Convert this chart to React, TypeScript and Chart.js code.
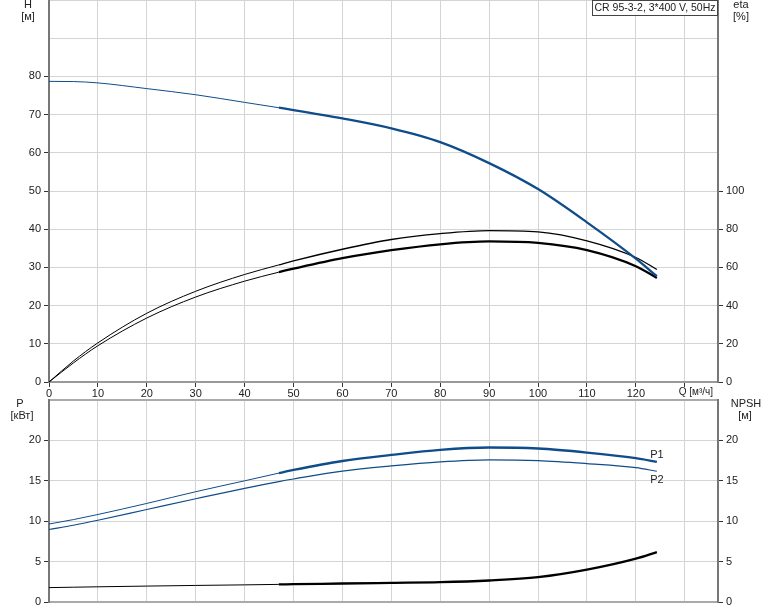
import React, { useEffect, useRef } from "react";
import { Chart, registerables } from "chart.js";

Chart.register(...registerables);

// ---- data ----
const Q = [0, 5, 10, 20, 30, 40, 47, 50, 60, 70, 80, 90, 100, 110, 120, 124.3];
const H = [78.7, 78.65, 78.3, 76.8, 75.2, 73.2, 71.8, 71.2, 69.0, 66.4, 62.8, 57.3, 50.5, 41.8, 32.3, 27.7];
const ETA_UPPER = [0, 11, 20.5, 36, 47.5, 56.3, 61.3, 63.4, 69.5, 74.6, 77.7, 79.3, 78.6, 73.9, 65.2, 58.9];
const ETA_LOWER = [0, 10, 19, 33.5, 44.5, 52.8, 57.5, 59.3, 64.8, 69.0, 72.1, 73.6, 72.8, 69.0, 60.6, 54.5];
const P1 = [9.65, 10.2, 10.83, 12.2, 13.65, 15.0, 15.95, 16.34, 17.45, 18.2, 18.83, 19.12, 19.0, 18.5, 17.8, 17.34];
const P2 = [8.97, 9.5, 10.12, 11.45, 12.78, 14.07, 14.9, 15.22, 16.2, 16.84, 17.34, 17.59, 17.5, 17.13, 16.63, 16.18];
const NPSH = [1.78, 1.83, 1.88, 1.97, 2.05, 2.12, 2.18, 2.2, 2.29, 2.37, 2.45, 2.66, 3.07, 4.0, 5.36, 6.18];

const X_MAX = 136.8;
const X_LABEL_MAX = 120;
const Q_LABEL_AT = 130;
const H_MAX = 100;
const H_LABEL_MAX = 80;
const ETA_MAX = 200;
const ETA_LABEL_MAX = 100;
const P_MAX = 25;
const P_LABEL_MAX = 20;
const THICK_FROM = 47;

const TITLE = "CR 95-3-2, 3*400 V, 50Hz";
const Q_LABEL = "Q [м³/ч]";

const FONT = '"Liberation Sans", Arial, sans-serif';
const BLUE = "#0f4c8a";
const GRID = "#d4d4d4";
const TXT = "#222";

const pts = (ys: number[]) => Q.map((x, i) => ({ x, y: ys[i] }));

const thickSeg = (thin: number, thick: number) => ({
  borderWidth: (ctx: any) => (ctx.p0.parsed.x >= THICK_FROM ? thick : thin),
});

function fixY(width: number) {
  return (s: any) => {
    s.width = width;
    s.paddingTop = 0;
    s.paddingBottom = 0;
  };
}
function fixX(height: number) {
  return (s: any) => {
    s.height = height;
    s.paddingLeft = 0;
    s.paddingRight = 0;
  };
}

function text(ctx: CanvasRenderingContext2D, s: string, x: number, y: number, align: CanvasTextAlign = "center", size = 11) {
  ctx.save();
  ctx.font = `${size}px ${FONT}`;
  ctx.fillStyle = TXT;
  ctx.textAlign = align;
  ctx.textBaseline = "middle";
  ctx.fillText(s, x, y);
  ctx.restore();
}

const topTexts = {
  id: "topTexts",
  afterDraw(chart: any) {
    const ctx = chart.ctx as CanvasRenderingContext2D;
    text(ctx, "H", 28, 5);
    text(ctx, "[м]", 28, 17);
    text(ctx, "eta", 741, 5);
    text(ctx, "[%]", 741, 17);
    const xs = chart.scales.x;
    text(ctx, Q_LABEL, xs.getPixelForValue(Q_LABEL_AT) - 6, 392, "left", 10);
    // title box
    ctx.save();
    ctx.fillStyle = "#fff";
    ctx.fillRect(592, 0, 126, 16);
    ctx.strokeStyle = "#444";
    ctx.lineWidth = 1;
    ctx.strokeRect(592.5, 0.5, 125, 15);
    ctx.restore();
    text(ctx, TITLE, 655, 8.5, "center", 10.5);
  },
};

const botTexts = {
  id: "botTexts",
  afterDraw(chart: any) {
    const ctx = chart.ctx as CanvasRenderingContext2D;
    text(ctx, "P", 20, 8);
    text(ctx, "[кВт]", 22, 20);
    text(ctx, "NPSH", 746, 8);
    text(ctx, "[м]", 745, 20);
    const xs = chart.scales.x;
    const ys = chart.scales.y;
    const last = Q.length - 1;
    const xe = xs.getPixelForValue(Q[last]);
    text(ctx, "P1", xe, ys.getPixelForValue(P1[last]) - 6.5);
    text(ctx, "P2", xe, ys.getPixelForValue(P2[last]) + 9);
  },
};

export default function App() {
  const topRef = useRef<HTMLCanvasElement>(null);
  const botRef = useRef<HTMLCanvasElement>(null);

  useEffect(() => {
    Chart.defaults.font.family = FONT;
    Chart.defaults.font.size = 11;
    Chart.defaults.color = TXT;

    const tickFont = { family: FONT, size: 11 };

    const top = new Chart(topRef.current!, {
      type: "line",
      data: {
        datasets: [
          {
            data: pts(H),
            yAxisID: "y",
            borderColor: BLUE,
            borderWidth: 1,
            segment: thickSeg(1, 2.3),
            pointRadius: 0,
            cubicInterpolationMode: "monotone",
          },
          {
            data: pts(ETA_UPPER),
            yAxisID: "eta",
            borderColor: "#000",
            borderWidth: 1,
            segment: thickSeg(1, 1.3),
            pointRadius: 0,
            cubicInterpolationMode: "monotone",
          },
          {
            data: pts(ETA_LOWER),
            yAxisID: "eta",
            borderColor: "#000",
            borderWidth: 1,
            segment: thickSeg(1, 2.3),
            pointRadius: 0,
            cubicInterpolationMode: "monotone",
          },
        ],
      },
      options: {
        animation: false,
        responsive: true,
        maintainAspectRatio: false,
        layout: { padding: 0 },
        plugins: { legend: { display: false }, tooltip: { enabled: false }, title: { display: false } },
        scales: {
          x: {
            type: "linear",
            min: 0,
            max: X_MAX,
            afterFit: fixX(18),
            ticks: {
              stepSize: 10,
              includeBounds: false,
              autoSkip: false,
              maxRotation: 0,
              padding: 0,
              font: tickFont,
              color: TXT,
              callback: (v: any) => (v <= X_LABEL_MAX ? String(v) : ""),
            },
            grid: { color: GRID, lineWidth: 1, tickLength: 5, tickColor: "#333" },
            border: { color: "#999", width: 2 },
          },
          y: {
            position: "left",
            min: 0,
            max: H_MAX,
            afterFit: fixY(49),
            ticks: {
              stepSize: 10,
              padding: 3,
              font: tickFont,
              color: TXT,
              callback: (v: any) => (v <= H_LABEL_MAX ? String(v) : ""),
            },
            grid: {
              color: GRID,
              lineWidth: 1,
              tickLength: 5,
              tickColor: (c: any) => (c.tick && c.tick.value <= H_LABEL_MAX ? "#333" : "rgba(0,0,0,0)"),
            },
            border: { color: "#777", width: 2 },
          },
          eta: {
            position: "right",
            min: 0,
            max: ETA_MAX,
            afterFit: fixY(56),
            ticks: {
              stepSize: 20,
              padding: 3,
              font: tickFont,
              color: TXT,
              callback: (v: any) => (v <= ETA_LABEL_MAX ? String(v) : ""),
            },
            grid: {
              drawOnChartArea: false,
              tickLength: 5,
              tickColor: (c: any) => (c.tick && c.tick.value <= ETA_LABEL_MAX ? "#333" : "rgba(0,0,0,0)"),
            },
            border: { color: "#777", width: 2 },
          },
        },
      } as any,
      plugins: [topTexts],
    });

    const bot = new Chart(botRef.current!, {
      type: "line",
      data: {
        datasets: [
          {
            data: pts(P1),
            yAxisID: "y",
            borderColor: BLUE,
            borderWidth: 1,
            segment: thickSeg(1, 2.3),
            pointRadius: 0,
            cubicInterpolationMode: "monotone",
          },
          {
            data: pts(P2),
            yAxisID: "y",
            borderColor: BLUE,
            borderWidth: 1.2,
            pointRadius: 0,
            cubicInterpolationMode: "monotone",
          },
          {
            data: pts(NPSH),
            yAxisID: "npsh",
            borderColor: "#000",
            borderWidth: 1,
            segment: thickSeg(1, 2.3),
            pointRadius: 0,
            cubicInterpolationMode: "monotone",
          },
        ],
      },
      options: {
        animation: false,
        responsive: true,
        maintainAspectRatio: false,
        layout: { padding: { top: 4, left: 0, right: 0, bottom: 0 } },
        plugins: { legend: { display: false }, tooltip: { enabled: false }, title: { display: false } },
        scales: {
          x: {
            type: "linear",
            min: 0,
            max: X_MAX,
            afterFit: fixX(9),
            ticks: { display: false, stepSize: 10, includeBounds: false },
            grid: { color: GRID, lineWidth: 1, drawTicks: false },
            border: { color: "#aaa", width: 2 },
          },
          y: {
            position: "left",
            min: 0,
            max: P_MAX,
            afterFit: fixY(49),
            ticks: {
              stepSize: 5,
              padding: 3,
              font: tickFont,
              color: TXT,
              callback: (v: any) => (v <= P_LABEL_MAX ? String(v) : ""),
            },
            grid: {
              color: (c: any) => (c.tick && c.tick.value >= P_MAX ? "#aaa" : GRID),
              lineWidth: (c: any) => (c.tick && c.tick.value >= P_MAX ? 2 : 1),
              tickLength: 5,
              tickColor: (c: any) => (c.tick && c.tick.value <= P_LABEL_MAX ? "#333" : "rgba(0,0,0,0)"),
            },
            border: { color: "#777", width: 2 },
          },
          npsh: {
            position: "right",
            min: 0,
            max: P_MAX,
            afterFit: fixY(56),
            ticks: {
              stepSize: 5,
              padding: 3,
              font: tickFont,
              color: TXT,
              callback: (v: any) => (v <= P_LABEL_MAX ? String(v) : ""),
            },
            grid: {
              drawOnChartArea: false,
              tickLength: 5,
              tickColor: (c: any) => (c.tick && c.tick.value <= P_LABEL_MAX ? "#333" : "rgba(0,0,0,0)"),
            },
            border: { color: "#777", width: 2 },
          },
        },
      } as any,
      plugins: [botTexts],
    });

    return () => {
      top.destroy();
      bot.destroy();
    };
  }, []);

  return (
    <div style={{ position: "absolute", left: 0, top: 0, width: 774, height: 611, background: "#fff" }}>
      <div style={{ position: "absolute", left: 0, top: 0, width: 774, height: 400 }}>
        <canvas ref={topRef} />
      </div>
      <div style={{ position: "absolute", left: 0, top: 396, width: 774, height: 215 }}>
        <canvas ref={botRef} />
      </div>
    </div>
  );
}
